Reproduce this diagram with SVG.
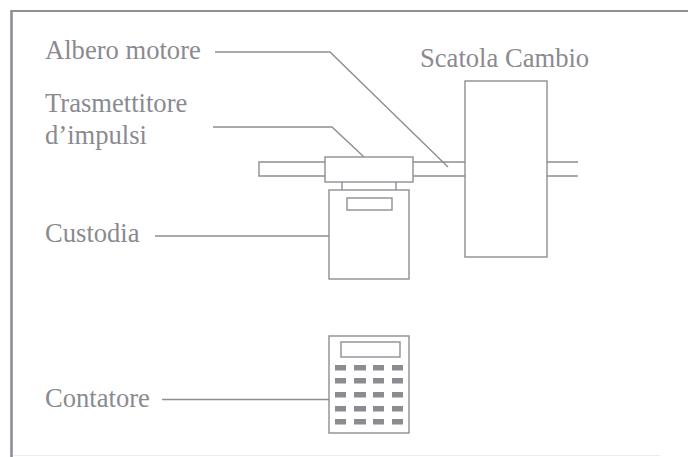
<svg xmlns="http://www.w3.org/2000/svg" width="688" height="457" viewBox="0 0 688 457">
<style>
.s{fill:none;stroke:#8d8d94;stroke-width:1.4}
.b{fill:#fff;stroke:#8d8d94;stroke-width:1.4}
.k{fill:#8b8b92}
text{font-family:"Liberation Serif","Times New Roman",serif;font-size:26.6px;fill:#8a8a91}
</style>
<rect width="688" height="457" fill="#fff"/>
<g id="frame">
<path d="M11 11H688" fill="none" stroke="#8f8f94" stroke-width="2.2"/>
<path d="M11.5 10V457" fill="none" stroke="#8d8d9c" stroke-width="2.6"/>
<path d="M13 455.5H660" fill="none" stroke="#ececee" stroke-width="1"/>
</g>
<g id="connectors">
<path class="s" d="M215 52H330L448 167"/>
<path class="s" d="M213 127H332L364 157"/>
<path class="s" d="M155 236H329"/>
<path class="s" d="M162 399.500H329"/>
</g>
<g id="albero-motore"><path class="s" d="M325 162H259V176H325M413 162H465M413 176H465M547 162H578M547 176H578"/></g>
<g id="trasmettitore"><rect class="b" x="325" y="157" width="88" height="25"/><path class="s" d="M342 182V190M396 182V190"/></g>
<g id="custodia"><rect class="b" x="329" y="190" width="80" height="89"/><rect class="b" x="347" y="198" width="45" height="12"/></g>
<g id="scatola-cambio"><rect class="b" x="465" y="81" width="82" height="176"/></g>
<g id="contatore"><rect class="b" x="329" y="336" width="80" height="97"/><rect class="b" x="341" y="342" width="59" height="15"/>
<g class="k">
<rect x="335" y="365" width="11" height="5.500"/><rect x="354" y="365" width="12" height="5.500"/><rect x="373" y="365" width="11" height="5.500"/><rect x="392" y="365" width="11" height="5.500"/>
<rect x="335" y="378" width="11" height="5.500"/><rect x="354" y="378" width="12" height="5.500"/><rect x="373" y="378" width="11" height="5.500"/><rect x="392" y="378" width="11" height="5.500"/>
<rect x="335" y="392" width="11" height="5.500"/><rect x="354" y="392" width="12" height="5.500"/><rect x="373" y="392" width="11" height="5.500"/><rect x="392" y="392" width="11" height="5.500"/>
<rect x="335" y="406" width="11" height="5.500"/><rect x="354" y="406" width="12" height="5.500"/><rect x="373" y="406" width="11" height="5.500"/><rect x="392" y="406" width="11" height="5.500"/>
<rect x="335" y="419" width="11" height="5.500"/><rect x="354" y="419" width="12" height="5.500"/><rect x="373" y="419" width="11" height="5.500"/><rect x="392" y="419" width="11" height="5.500"/>
</g></g>
<g id="labels">
<text x="45" y="59">Albero motore</text>
<text x="45" y="112">Trasmettitore</text>
<text x="45" y="144">d’impulsi</text>
<text x="45" y="242">Custodia</text>
<text x="45" y="407">Contatore</text>
<text x="420" y="67">Scatola Cambio</text>
</g>
</svg>
